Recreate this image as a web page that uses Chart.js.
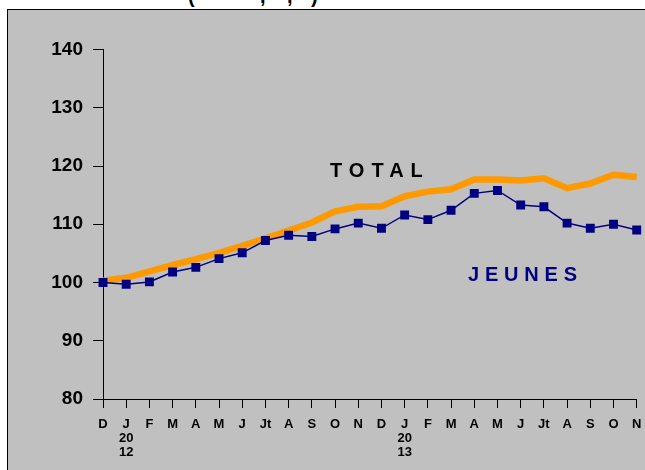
<!DOCTYPE html>
<html>
<head>
<meta charset="utf-8">
<script src="https://cdn.jsdelivr.net/npm/chart.js@4"></script>
<style>
  body { margin: 0; background: #fff; width: 645px; height: 470px; overflow: hidden; position: relative; font-family: Arial, "Liberation Sans", sans-serif; }
  #frame { position: absolute; left: 7px; top: 9px; right: 0; bottom: 0; background: #c0c0c0; border-left: 1px solid #000; border-top: 1px solid #000; }
  #chart { position: absolute; left: 0; top: 0; }
  .tag { position: absolute; font-weight: bold; font-size: 20px; line-height: 20px; letter-spacing: 7px; white-space: nowrap; }
  .cut { position: absolute; top: -14px; font-size: 20px; line-height: 20px; font-weight: bold; }
</style>
</head>
<body>
<div id="frame"></div>
<span class="cut" style="left:188px">(</span>
<span class="cut" style="left:260px">,</span>
<span class="cut" style="left:287px">,</span>
<span class="cut" style="left:311px">)</span>
<canvas id="chart" width="645" height="470"></canvas>
<div class="tag" style="left:330px; top:160px; color:#000;">TOTAL</div>
<div class="tag" style="left:468px; top:264px; color:#000080; letter-spacing:5.8px;">JEUNES</div>
<script>
// months Dec 2011 -> Nov 2013
const months = ["D", ["J", "20", "12"], "F", "M", "A", "M", "J", "Jt", "A", "S", "O", "N",
  "D", ["J", "20", "13"], "F", "M", "A", "M", "J", "Jt", "A", "S", "O", "N"];

const jeunes = [100.0, 99.7, 100.1, 101.8, 102.6, 104.1, 105.1, 107.2, 108.1, 107.9, 109.2, 110.2,
  109.3, 111.6, 110.8, 112.4, 115.3, 115.8, 113.3, 113.0, 110.2, 109.3, 110.0, 109.0];

const total = [100.3, 100.8, 101.9, 103.0, 104.0, 105.1, 106.3, 107.6, 108.9, 110.3, 112.2, 113.0,
  113.1, 114.8, 115.6, 116.0, 117.7, 117.7, 117.5, 117.9, 116.2, 117.0, 118.5, 118.1];

const yTicks = [80, 90, 100, 110, 120, 130, 140];

const fontFam = "Arial, 'Liberation Sans', sans-serif";

new Chart(document.getElementById("chart"), {
  type: "line",
  data: {
    labels: months,
    datasets: [
      {
        label: "JEUNES",
        data: jeunes,
        borderColor: "#000080",
        backgroundColor: "#000080",
        borderWidth: 1.5,
        pointStyle: "rect",
        pointRadius: 6.3,
        pointBorderWidth: 0,
        tension: 0,
      },
      {
        label: "TOTAL",
        data: total,
        borderColor: "#ff9900",
        borderWidth: 6.5,
        pointRadius: 0,
        borderJoinStyle: "round",
        tension: 0,
      },
    ],
  },
  options: {
    responsive: false,
    animation: false,
    layout: { padding: { top: 49.5, right: 8.3, left: 0, bottom: 0 } },
    plugins: { legend: { display: false }, tooltip: { enabled: false } },
    scales: {
      x: {
        offset: false,
        grid: { drawOnChartArea: false, drawTicks: true, tickLength: 9, color: "#000" },
        border: { color: "#000", width: 1 },
        ticks: {
          color: "#000",
          autoSkip: false,
          maxRotation: 0,
          padding: 10,
          font: { family: fontFam, size: 13, weight: "bold", lineHeight: 1.05 },
        },
        afterFit: (s) => {
          s.height = 71;
          s.paddingLeft = 0;
          s.paddingRight = 0;
        },
      },
      y: {
        min: yTicks[0],
        max: yTicks[yTicks.length - 1],
        afterBuildTicks: (s) => { s.ticks = yTicks.map((v) => ({ value: v })); },
        grid: { drawOnChartArea: false, drawTicks: true, tickLength: 10, color: "#000" },
        border: { color: "#000", width: 1 },
        ticks: {
          color: "#000",
          padding: 10,
          font: { family: fontFam, size: 19, weight: "bold" },
        },
        afterFit: (s) => { s.width = 103; },
      },
    },
  },
});
</script>
</body>
</html>
